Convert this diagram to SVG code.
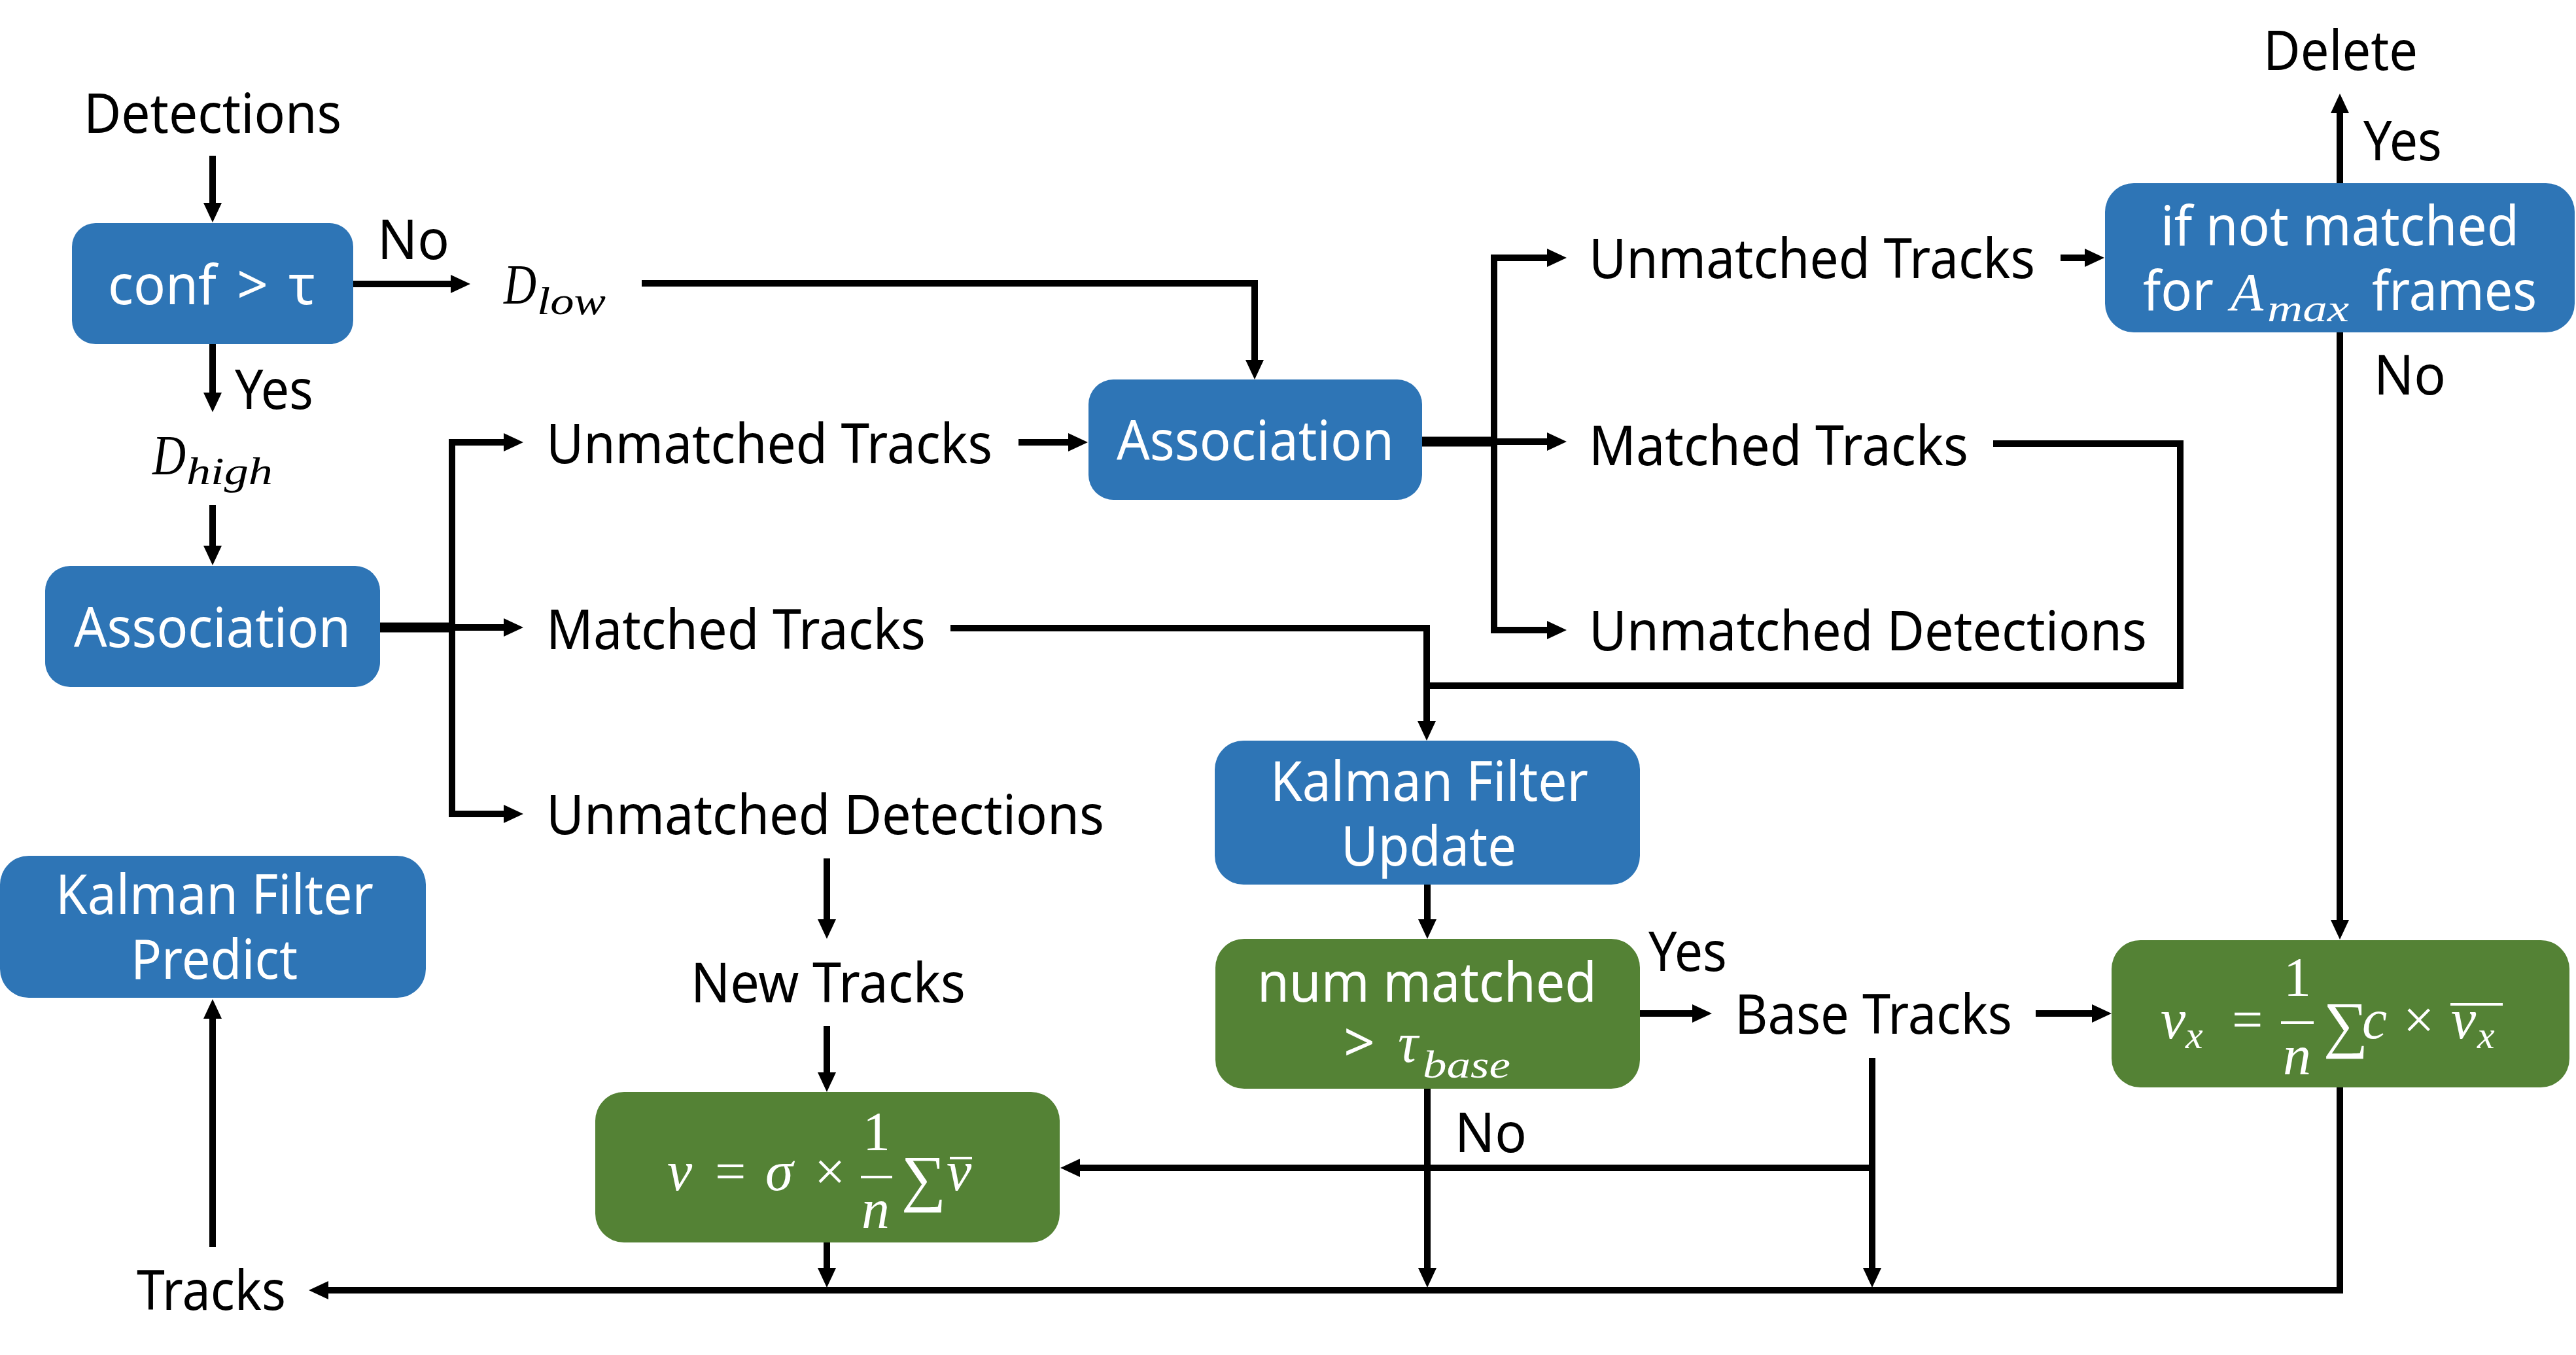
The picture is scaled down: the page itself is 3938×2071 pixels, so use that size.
<svg xmlns="http://www.w3.org/2000/svg" width="3938" height="2071" viewBox="0 0 3938 2071">
<style>
.t{font-family:"Noto Sans","Liberation Sans",sans-serif;font-size:84px;fill:#000}
.w{fill:#fff}
.m{font-family:"Liberation Serif","DejaVu Serif",serif;font-style:italic;font-size:86px}
.r{font-family:"Liberation Serif","DejaVu Serif",serif;font-style:normal;font-size:84px}
.s{font-size:60px}
.blue{fill:#2E75B6}
.green{fill:#548235}
.c{fill:none;stroke:#000;stroke-width:10;stroke-linejoin:miter}
.a{marker-end:url(#ah)}
.bar{stroke:#fff;stroke-width:4}
</style>
<defs>
<marker id="ah" markerUnits="userSpaceOnUse" viewBox="0 0 30 28" markerWidth="30" markerHeight="28" refX="10" refY="14" orient="auto-start-reverse">
<path d="M0,0 L30,14 L0,28 z" fill="#000"/>
</marker>
</defs>
<rect width="3938" height="2071" fill="#fff"/>

<g id="connectors">
<path class="c a" d="M325,238 V320"/>
<path class="c a" d="M540,434 H699"/>
<path class="c a" d="M981,433 H1918 V560"/>
<path class="c a" d="M325,526 V610"/>
<path class="c a" d="M325,772 V844"/>
<path class="c" style="stroke-width:15" d="M581,959 H691"/>
<path class="c a" style="marker-start:url(#ah)" d="M780,676 H691 V1244 H780"/>
<path class="c a" d="M691,959 H780"/>
<path class="c a" d="M1557,676 H1643"/>
<path class="c a" d="M1453,960 H2181 V1112"/>
<path class="c a" d="M1264,1312 V1415"/>
<path class="c a" d="M1264,1568 V1649"/>
<path class="c" style="stroke-width:15" d="M2174,675 H2284"/>
<path class="c a" style="marker-start:url(#ah)" d="M2375,394 H2284 V963 H2375"/>
<path class="c a" d="M2284,675 H2375"/>
<path class="c a" d="M3150,394 H3197"/>
<path class="c" d="M3047,678 H3333 V1048 H2181"/>
<path class="c a" d="M3577,280 V163"/>
<path class="c a" d="M3577,508 V1416"/>
<path class="c a" d="M2182,1352 V1415"/>
<path class="c a" d="M2507,1549 H2597"/>
<path class="c a" d="M3112,1549 H3208"/>
<path class="c a" d="M2862,1617 V1948"/>
<path class="c a" d="M2862,1785 H1641"/>
<path class="c a" d="M2182,1664 V1948"/>
<path class="c a" d="M1264,1899 V1948"/>
<path class="c a" d="M3577,1662 V1972 H492"/>
<path class="c a" d="M325,1906 V1547"/>
</g>

<g id="labels">
<text class="t" x="128" y="203" textLength="394" lengthAdjust="spacingAndGlyphs">Detections</text>
<text class="t" x="577" y="396" textLength="110" lengthAdjust="spacingAndGlyphs">No</text>
<text class="t" x="359" y="625" textLength="120" lengthAdjust="spacingAndGlyphs">Yes</text>
<text class="t" x="835" y="708" textLength="682" lengthAdjust="spacingAndGlyphs">Unmatched Tracks</text>
<text class="t" x="835" y="992" textLength="580" lengthAdjust="spacingAndGlyphs">Matched Tracks</text>
<text class="t" x="835" y="1275" textLength="853" lengthAdjust="spacingAndGlyphs">Unmatched Detections</text>
<text class="t" x="2429" y="425" textLength="682" lengthAdjust="spacingAndGlyphs">Unmatched Tracks</text>
<text class="t" x="2429" y="711" textLength="580" lengthAdjust="spacingAndGlyphs">Matched Tracks</text>
<text class="t" x="2429" y="994" textLength="853" lengthAdjust="spacingAndGlyphs">Unmatched Detections</text>
<text class="t" x="3460" y="107" textLength="236" lengthAdjust="spacingAndGlyphs">Delete</text>
<text class="t" x="3613" y="245" textLength="120" lengthAdjust="spacingAndGlyphs">Yes</text>
<text class="t" x="3629" y="603" textLength="110" lengthAdjust="spacingAndGlyphs">No</text>
<text class="t" x="1056" y="1532" textLength="420" lengthAdjust="spacingAndGlyphs">New Tracks</text>
<text class="t" x="2520" y="1484" textLength="120" lengthAdjust="spacingAndGlyphs">Yes</text>
<text class="t" x="2224" y="1761" textLength="110" lengthAdjust="spacingAndGlyphs">No</text>
<text class="t" x="2652" y="1580" textLength="424" lengthAdjust="spacingAndGlyphs">Base Tracks</text>
<text class="t" x="209" y="2002" textLength="228" lengthAdjust="spacingAndGlyphs">Tracks</text>
</g>

<g id="d-low">
<text class="m"><tspan x="770" y="464" textLength="50" lengthAdjust="spacingAndGlyphs">D</tspan><tspan class="s" x="821" y="480" textLength="105" lengthAdjust="spacingAndGlyphs">low</tspan></text>
</g>
<g id="d-high">
<text class="m"><tspan x="233" y="725" textLength="51" lengthAdjust="spacingAndGlyphs">D</tspan><tspan class="s" x="285" y="740" textLength="132" lengthAdjust="spacingAndGlyphs">high</tspan></text>
</g>

<g id="conf">
<rect class="blue" x="110" y="341" width="430" height="185" rx="36"/>
<text class="t w" x="165" y="465"><tspan textLength="166" lengthAdjust="spacingAndGlyphs">conf</tspan><tspan x="362">&gt;</tspan><tspan x="441">τ</tspan></text>
</g>

<g id="association1">
<rect class="blue" x="69" y="865" width="512" height="185" rx="38"/>
<text class="t w" x="113" y="989" textLength="423" lengthAdjust="spacingAndGlyphs">Association</text>
</g>

<g id="kalman-predict">
<rect class="blue" x="0" y="1308" width="651" height="217" rx="44"/>
<text class="t w"><tspan x="85" y="1397" textLength="486" lengthAdjust="spacingAndGlyphs">Kalman Filter</tspan><tspan x="200" y="1496" textLength="255" lengthAdjust="spacingAndGlyphs">Predict</tspan></text>
</g>

<g id="association2">
<rect class="blue" x="1664" y="580" width="510" height="184" rx="38"/>
<text class="t w" x="1707" y="703" textLength="424" lengthAdjust="spacingAndGlyphs">Association</text>
</g>

<g id="kalman-update">
<rect class="blue" x="1857" y="1132" width="650" height="220" rx="44"/>
<text class="t w"><tspan x="1942" y="1224" textLength="486" lengthAdjust="spacingAndGlyphs">Kalman Filter</tspan><tspan x="2050" y="1323" textLength="268" lengthAdjust="spacingAndGlyphs">Update</tspan></text>
</g>

<g id="if-not-matched">
<rect class="blue" x="3218" y="280" width="718" height="228" rx="44"/>
<text class="t w"><tspan x="3303" y="375" textLength="548" lengthAdjust="spacingAndGlyphs">if not matched</tspan><tspan x="3276" y="474" textLength="108" lengthAdjust="spacingAndGlyphs">for</tspan><tspan class="m" x="3410" y="474" style="font-size:82px">A</tspan><tspan class="m s" x="3466" y="491" textLength="125" lengthAdjust="spacingAndGlyphs">max</tspan><tspan x="3626" y="474" textLength="252" lengthAdjust="spacingAndGlyphs">frames</tspan></text>
</g>

<g id="num-matched">
<rect class="green" x="1858" y="1435" width="649" height="229" rx="44"/>
<text class="t w"><tspan x="1922" y="1531" textLength="519" lengthAdjust="spacingAndGlyphs">num matched</tspan><tspan x="2054" y="1623">&gt;</tspan><tspan class="m" x="2137" y="1623">τ</tspan><tspan class="m s" x="2175" y="1647" textLength="134" lengthAdjust="spacingAndGlyphs">base</tspan></text>
</g>

<g id="new-velocity">
<rect class="green" x="910" y="1669" width="710" height="230" rx="44"/>
<text class="m w"><tspan x="1020" y="1819">v</tspan><tspan class="r" x="1093" y="1819">=</tspan><tspan x="1170" y="1819">σ</tspan><tspan class="r" x="1245" y="1819">×</tspan><tspan class="r" x="1319" y="1758">1</tspan><tspan x="1317" y="1877">n</tspan><tspan class="r" x="1378" y="1833" style="font-size:96px">∑</tspan><tspan x="1447" y="1819">v</tspan></text>
<line class="bar" x1="1316" y1="1799" x2="1364" y2="1799"/>
<line class="bar" x1="1452" y1="1770" x2="1486" y2="1770"/>
</g>

<g id="base-velocity">
<rect class="green" x="3228" y="1437" width="700" height="225" rx="44"/>
<text class="m w"><tspan x="3303" y="1587">v</tspan><tspan class="s" x="3341" y="1602">x</tspan><tspan class="r" x="3412" y="1587">=</tspan><tspan class="r" x="3491" y="1522">1</tspan><tspan x="3490" y="1642">n</tspan><tspan class="r" x="3552" y="1598" style="font-size:96px">∑</tspan><tspan x="3611" y="1587">c</tspan><tspan class="r" x="3674" y="1587">×</tspan><tspan x="3747" y="1587">v</tspan><tspan class="s" x="3787" y="1602">x</tspan></text>
<line class="bar" x1="3487" y1="1563" x2="3537" y2="1563"/>
<line class="bar" x1="3746" y1="1535" x2="3826" y2="1535"/>
</g>
</svg>
